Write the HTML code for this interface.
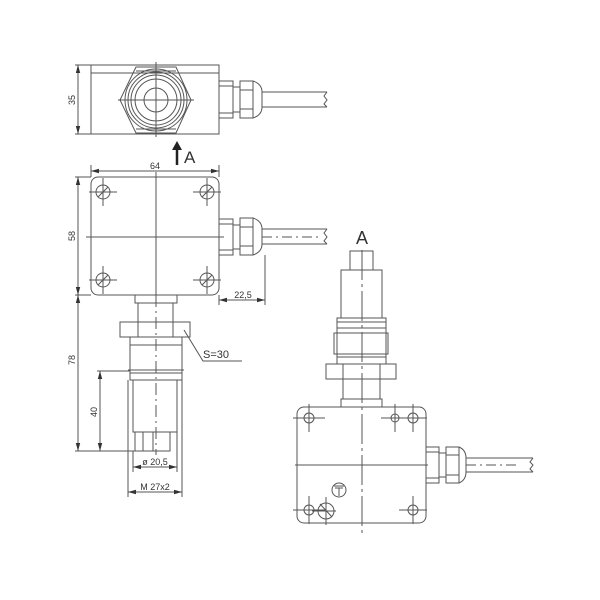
<!DOCTYPE html>
<html><head><meta charset="utf-8"><style>html,body{margin:0;padding:0;background:#fff}svg{display:block}</style></head><body>
<svg width="600" height="600" viewBox="0 0 600 600" xmlns="http://www.w3.org/2000/svg" font-family="Liberation Sans, sans-serif">
<defs>
<marker id="ar" markerWidth="8" markerHeight="6" refX="8" refY="3" orient="auto-start-reverse" markerUnits="userSpaceOnUse"><path d="M0,0.8 L8,3 L0,5.2 z" fill="#333"/></marker>
</defs>
<g fill="none" stroke="#555" stroke-width="1">
<rect x="91" y="65" width="128" height="69"/>
<line x1="91" y1="73" x2="219" y2="73"/>
<polygon points="120,100 136,67 176,67 191,100 176,133 136,133"/>
<line x1="136" y1="71" x2="176" y2="71"/><line x1="136" y1="129" x2="176" y2="129"/>
<circle cx="156" cy="100" r="31"/><circle cx="156" cy="100" r="28"/><circle cx="156" cy="100" r="25"/><circle cx="156" cy="100" r="21"/><circle cx="156" cy="100" r="12"/>
<line x1="156" y1="62" x2="156" y2="137"/><line x1="118" y1="100" x2="194" y2="100"/>
<rect x="219" y="81" width="14" height="37"/><line x1="219" y1="86" x2="233" y2="86"/><line x1="219" y1="113" x2="233" y2="113"/>
<rect x="233" y="87" width="7" height="25"/>
<rect x="240" y="81" width="13" height="37"/><line x1="240" y1="90" x2="253" y2="90"/><line x1="240" y1="109" x2="253" y2="109"/>
<path d="M253,81 Q262,84 262,92 L262,107 Q262,115 253,118"/>
<line x1="262" y1="92" x2="327" y2="92"/><line x1="262" y1="107" x2="327" y2="107"/>
<path d="M327,92 l-3,4 3,4 -3,4 3,3"/>
<line x1="75" y1="65" x2="91" y2="65"/><line x1="75" y1="134" x2="91" y2="134"/>
<line x1="78" y1="65" x2="78" y2="134" marker-start="url(#ar)" marker-end="url(#ar)"/>
<rect x="91" y="177" width="128" height="118" rx="7"/>
<line x1="156" y1="172" x2="156" y2="300"/><line x1="86" y1="237" x2="224" y2="237"/>
<circle cx="103" cy="192" r="7"/><circle cx="207" cy="192" r="7"/><circle cx="103" cy="280" r="7"/><circle cx="207" cy="280" r="7"/>
<path d="M89,192h28M103,178v28M193,192h28M207,178v28M89,280h28M103,266v28M193,280h28M207,266v28"/>
<path d="M98,197l10,-10M202,197l10,-10M98,285l10,-10M202,285l10,-10"/>
<rect x="219" y="219" width="14" height="36"/><line x1="219" y1="224" x2="233" y2="224"/><line x1="219" y1="250" x2="233" y2="250"/>
<rect x="233" y="225" width="7" height="24"/>
<rect x="240" y="218" width="13" height="37"/><line x1="240" y1="227" x2="253" y2="227"/><line x1="240" y1="246" x2="253" y2="246"/>
<path d="M253,218 Q262,221 262,229 L262,244 Q262,252 253,255"/>
<line x1="262" y1="229" x2="327" y2="229"/><line x1="262" y1="244" x2="327" y2="244"/>
<line x1="262" y1="237" x2="318" y2="237" stroke-dasharray="10,4,2,4"/>
<path d="M327,229 l-3,4 3,4 -3,4 3,3"/>
<line x1="91" y1="165" x2="91" y2="177"/><line x1="219" y1="165" x2="219" y2="177"/>
<line x1="91" y1="171" x2="219" y2="171" marker-start="url(#ar)" marker-end="url(#ar)"/>
<line x1="75" y1="177" x2="91" y2="177"/><line x1="75" y1="295" x2="91" y2="295"/>
<line x1="78" y1="177" x2="78" y2="295" marker-start="url(#ar)" marker-end="url(#ar)"/>
<line x1="219" y1="295" x2="219" y2="305"/><line x1="265" y1="255" x2="265" y2="305"/>
<line x1="219" y1="300" x2="265" y2="300" marker-start="url(#ar)" marker-end="url(#ar)"/>
<rect x="135" y="295" width="42" height="8"/>
<rect x="138" y="303" width="35" height="19"/>
<rect x="120" y="322" width="70" height="15"/><line x1="138" y1="322" x2="138" y2="337"/><line x1="173" y1="322" x2="173" y2="337"/>
<rect x="130" y="337" width="52" height="43"/><line x1="130" y1="345" x2="182" y2="345"/><line x1="128" y1="370" x2="184" y2="370"/><line x1="130" y1="373" x2="182" y2="373"/>
<rect x="133" y="380" width="44" height="52"/>
<rect x="135" y="432" width="35" height="19"/><line x1="143" y1="432" x2="143" y2="451"/><line x1="153" y1="432" x2="153" y2="451"/>
<line x1="156" y1="295" x2="156" y2="455" stroke-dasharray="12,4,2,4"/>
<line x1="75" y1="451" x2="135" y2="451"/><line x1="97" y1="371" x2="130" y2="371"/>
<line x1="78" y1="295" x2="78" y2="451" marker-start="url(#ar)" marker-end="url(#ar)"/>
<line x1="100" y1="371" x2="100" y2="451" marker-start="url(#ar)" marker-end="url(#ar)"/>
<line x1="133" y1="451" x2="133" y2="472"/><line x1="177" y1="432" x2="177" y2="472"/>
<line x1="133" y1="467" x2="177" y2="467" marker-start="url(#ar)" marker-end="url(#ar)"/>
<line x1="128" y1="380" x2="128" y2="497"/><line x1="182" y1="380" x2="182" y2="497"/>
<line x1="128" y1="492" x2="182" y2="492" marker-start="url(#ar)" marker-end="url(#ar)"/>
<path d="M184,330 L203,361 L242,361"/>
<rect x="350" y="251" width="23" height="19"/>
<rect x="341" y="270" width="41" height="48"/>
<rect x="337" y="318" width="49" height="39"/><line x1="337" y1="322" x2="386" y2="322"/><line x1="337" y1="328" x2="386" y2="328"/>
<rect x="334" y="333" width="54" height="21"/>
<rect x="326" y="364" width="70" height="15"/><line x1="343" y1="364" x2="343" y2="379"/><line x1="380" y1="364" x2="380" y2="379"/>
<line x1="337" y1="357" x2="337" y2="364"/><line x1="386" y1="357" x2="386" y2="364"/>
<rect x="343" y="379" width="37" height="20"/>
<rect x="341" y="399" width="41" height="8"/>
<rect x="297" y="407" width="129" height="116" rx="7"/>
<line x1="362" y1="250" x2="362" y2="535" stroke-dasharray="30,4,3,4"/>
<line x1="295" y1="465" x2="428" y2="465"/>
<circle cx="309" cy="418" r="5"/><circle cx="395" cy="418" r="4"/><circle cx="413" cy="418" r="5"/><circle cx="309" cy="510" r="5"/><circle cx="413" cy="510" r="5"/>
<path d="M293,418h32M309,404v28M381,418h46M395,404v28M413,404v28M293,510h32M309,496v28M399,510h28M413,496v28"/>
<circle cx="326" cy="511" r="8"/><path d="M320,504l12,13M312,511h24M326,497v28"/>
<circle cx="339" cy="490" r="7"/><path d="M334,486h10M335,488h8M339,488v8"/>
<rect x="426" y="447" width="13" height="36"/><line x1="426" y1="452" x2="439" y2="452"/><line x1="426" y1="478" x2="439" y2="478"/>
<rect x="439" y="453" width="7" height="24"/>
<rect x="446" y="447" width="13" height="36"/><line x1="446" y1="455" x2="459" y2="455"/><line x1="446" y1="475" x2="459" y2="475"/>
<path d="M459,447 Q466,450 466,458 L466,472 Q466,480 459,483"/>
<line x1="466" y1="458" x2="533" y2="458"/><line x1="466" y1="472" x2="533" y2="472"/>
<line x1="466" y1="465" x2="520" y2="465" stroke-dasharray="10,4,2,4"/>
<path d="M533,458 l-3,4 3,3 -3,4 3,3"/>
</g>
<line x1="177" y1="165" x2="177" y2="148" stroke="#222" stroke-width="2.5"/>
<path d="M172,150 L177,141 L182,150 z" fill="#222"/>
<g fill="#333">
<text x="184" y="163" font-size="17">A</text>
<text x="362" y="244" font-size="18" text-anchor="middle">A</text>
<text x="155" y="169" font-size="9" text-anchor="middle">64</text>
<text x="243" y="298" font-size="9" text-anchor="middle">22,5</text>
<text x="203" y="358" font-size="11">S=30</text>
<text x="155" y="465" font-size="9" text-anchor="middle">ø 20,5</text>
<text x="155" y="490" font-size="9" text-anchor="middle">M 27x2</text>
<text transform="translate(75,100) rotate(-90)" font-size="9" text-anchor="middle">35</text>
<text transform="translate(75,236) rotate(-90)" font-size="9" text-anchor="middle">58</text>
<text transform="translate(75,360) rotate(-90)" font-size="9" text-anchor="middle">78</text>
<text transform="translate(97,412) rotate(-90)" font-size="9" text-anchor="middle">40</text>
</g>
</svg>
</body></html>
